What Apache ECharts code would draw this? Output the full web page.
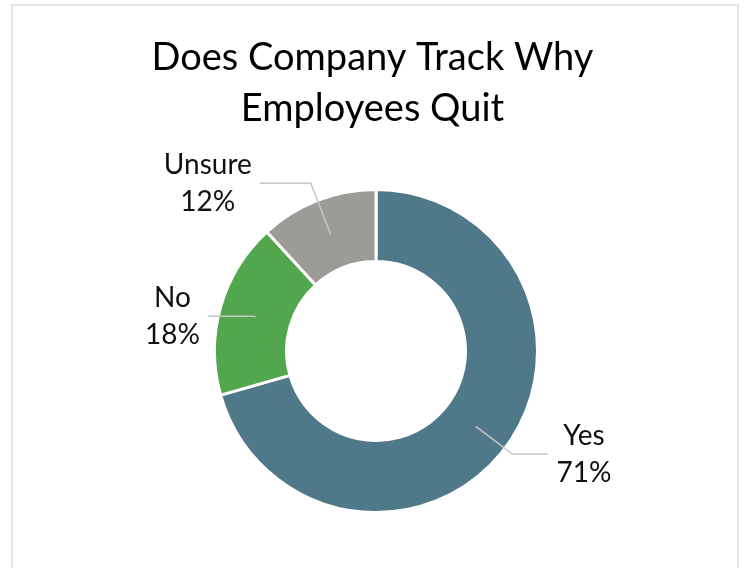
<!DOCTYPE html>
<html>
<head>
<meta charset="utf-8">
<script src="https://cdn.jsdelivr.net/npm/echarts@6/dist/echarts.min.js"></script>
<style>
  html, body { margin: 0; padding: 0; background: #fff; overflow: hidden; }
  #frame { position: absolute; left: 11px; top: 4px; width: 728px; height: 620px; border: 2px solid #e4e4e4; box-sizing: border-box; }
  #container { position: absolute; left: 0; top: 0; width: 745px; height: 568px; }
</style>
</head>
<body>
<div id="frame"></div>
<div id="container"></div>
<script>
var categories = ['Yes', 'No', 'Unsure'];
var shares = [70.6, 17.6, 11.8];
var colors = ['#4F7989', '#52A64E', '#9D9B97'];

// leader line lengths per slice [length, length2]
var leaders = [[46, 36], [2, 46], [55, 51]];

var myChart = echarts.init(document.getElementById('container'));

var font = 'Lato';
var center = [376, 351];

var option = {
  animation: false,
  title: {
    text: 'Does Company Track Why\nEmployees Quit',
    left: 'center',
    top: 27,
    textStyle: {
      fontFamily: font,
      fontSize: 38,
      fontWeight: 'normal',
      lineHeight: 51,
      color: '#000'
    }
  },
  series: [
    {
      type: 'pie',
      center: center,
      radius: [89.5, 161.5],
      startAngle: 90,
      silent: true,
      z: 2,
      label: { show: false },
      labelLine: { show: false },
      itemStyle: { borderColor: '#fff', borderWidth: 3 },
      data: categories.map(function (name, i) {
        return { name: name, value: shares[i], itemStyle: { color: colors[i] } };
      })
    },
    {
      // transparent copy, only for labels and leader lines starting inside the ring
      type: 'pie',
      center: center,
      radius: [0, 125],
      startAngle: 90,
      silent: true,
      z: 5,
      avoidLabelOverlap: false,
      itemStyle: { color: 'rgba(0,0,0,0)' },
      label: {
        show: true,
        position: 'outside',
        distanceToLabelLine: 8,
        formatter: function (p) {
          return '{t|' + p.name + '}\n{t|' + Math.round(p.value) + '%}';
        },
        rich: {
          t: { fontFamily: font, fontSize: 28, lineHeight: 37, color: '#111', align: 'center' }
        }
      },
      labelLine: {
        show: true,
        lineStyle: { color: '#c6c6c6', width: 1.5 }
      },
      data: categories.map(function (name, i) {
        return {
          name: name,
          value: shares[i],
          labelLine: { length: leaders[i][0], length2: leaders[i][1] }
        };
      })
    }
  ]
};

myChart.setOption(option);
</script>
</body>
</html>
